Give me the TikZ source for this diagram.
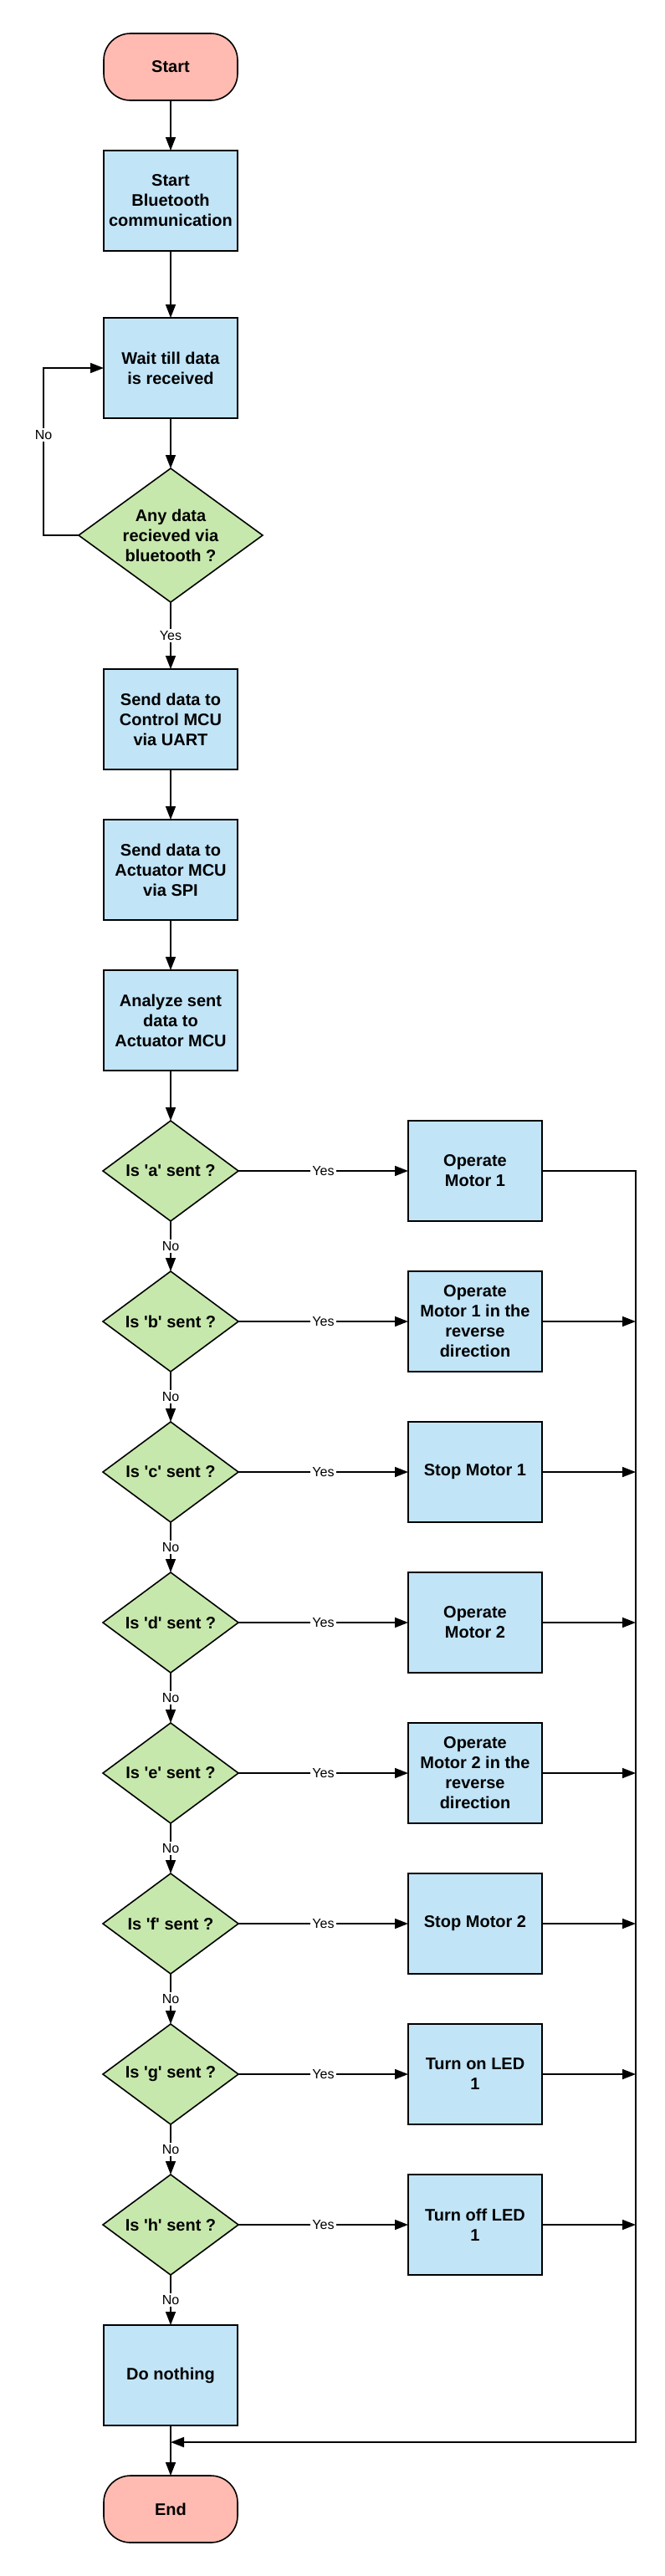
\documentclass[tikz,border=0pt]{standalone}
\usepackage{fontspec}
\setmainfont{Liberation Sans}
\usetikzlibrary{shapes.geometric,arrows.meta,positioning,calc}
\definecolor{termred}{HTML}{FFBBB1}
\definecolor{procblue}{HTML}{C1E4F7}
\definecolor{decgreen}{HTML}{C7E8AC}
\newcommand{\sq}{\textquotesingle}
\tikzset{
  term/.style={draw,fill=termred,rounded corners=16pt,minimum width=80pt,minimum height=40pt,outer sep=0pt,font=\fontsize{10pt}{12pt}\selectfont\bfseries},
  proc/.style={draw,fill=procblue,minimum width=80pt,minimum height=60pt,inner sep=2pt,outer sep=0pt,align=center,font=\fontsize{10pt}{12pt}\selectfont\bfseries},
  dec/.style={draw,fill=decgreen,diamond,aspect=1.35,minimum width=81pt,minimum height=60pt,inner sep=0pt,outer sep=0pt,align=center,font=\fontsize{10pt}{12pt}\selectfont\bfseries},
  lbl/.style={fill=white,inner sep=1pt,font=\fontsize{8pt}{9.6pt}\selectfont}
}
\begin{document}
\begin{tikzpicture}[node distance=30pt,line width=0.8pt,>={Triangle[length=8pt,width=6pt]}]
            \useasboundingbox (0,0) rectangle (397pt,-1540pt);
            \node[term] (start) at (102pt,-40pt) {Start};
            \node[proc] (bt) [below=of start] {Start\\Bluetooth\\communication};
            \node[proc] (wait) [below=40pt of bt] {Wait till data\\is received};
            \node[dec,aspect=1.375,minimum width=110pt,minimum height=80pt] (any) [below=of wait] {Any data\\recieved via\\bluetooth ?};
            \node[proc] (uart) [below=40pt of any] {Send data to\\Control MCU\\via UART};
            \node[proc] (spi) [below=of uart] {Send data to\\Actuator MCU\\via SPI};
            \node[proc] (ana) [below=of spi] {Analyze sent\\data to\\Actuator MCU};
            \node[dec] (qa) [below=of ana] {Is \sq a\sq{} sent ?};
            \node[dec] (qb) [below=of qa] {Is \sq b\sq{} sent ?};
            \node[dec] (qc) [below=of qb] {Is \sq c\sq{} sent ?};
            \node[dec] (qd) [below=of qc] {Is \sq d\sq{} sent ?};
            \node[dec] (qe) [below=of qd] {Is \sq e\sq{} sent ?};
            \node[dec] (qf) [below=of qe] {Is \sq f\sq{} sent ?};
            \node[dec] (qg) [below=of qf] {Is \sq g\sq{} sent ?};
            \node[dec] (qh) [below=of qg] {Is \sq h\sq{} sent ?};
            \node[proc] (none) [below=of qh] {Do nothing};
            \node[term] (end) [below=of none] {End};
            \node[proc] (opa) [right=101.5pt of qa] {Operate\\Motor 1};
            \node[proc] (opb) [right=101.5pt of qb] {Operate\\Motor 1 in the\\reverse\\direction};
            \node[proc] (opc) [right=101.5pt of qc] {Stop Motor 1};
            \node[proc] (opd) [right=101.5pt of qd] {Operate\\Motor 2};
            \node[proc] (ope) [right=101.5pt of qe] {Operate\\Motor 2 in the\\reverse\\direction};
            \node[proc] (opf) [right=101.5pt of qf] {Stop Motor 2};
            \node[proc] (opg) [right=101.5pt of qg] {Turn on LED\\1};
            \node[proc] (oph) [right=101.5pt of qh] {Turn off LED\\1};
            \coordinate (rtop) at ($(opa.east)+(56pt,0)$);
            \coordinate (mrg) at ($(none.south)!0.333!(end.north)$);
            \draw[->] (start) -- (bt);
            \draw[->] (bt) -- (wait);
            \draw[->] (wait) -- (any);
            \draw[->] (any.west) -- ++(-21pt,0) |- node[lbl,pos=0.3]{No} (wait.west);
            \draw[->] (any) -- node[lbl]{Yes} (uart);
            \draw[->] (uart) -- (spi);
            \draw[->] (spi) -- (ana);
            \draw[->] (ana) -- (qa);
            \draw[->] (qa) -- node[lbl]{No} (qb);
            \draw[->] (qb) -- node[lbl]{No} (qc);
            \draw[->] (qc) -- node[lbl]{No} (qd);
            \draw[->] (qd) -- node[lbl]{No} (qe);
            \draw[->] (qe) -- node[lbl]{No} (qf);
            \draw[->] (qf) -- node[lbl]{No} (qg);
            \draw[->] (qg) -- node[lbl]{No} (qh);
            \draw[->] (qh) -- node[lbl]{No} (none);
            \draw[->] (none) -- (end);
            \draw[->] (qa) -- node[lbl]{Yes} (opa);
            \draw[->] (qb) -- node[lbl]{Yes} (opb);
            \draw[->] (qc) -- node[lbl]{Yes} (opc);
            \draw[->] (qd) -- node[lbl]{Yes} (opd);
            \draw[->] (qe) -- node[lbl]{Yes} (ope);
            \draw[->] (qf) -- node[lbl]{Yes} (opf);
            \draw[->] (qg) -- node[lbl]{Yes} (opg);
            \draw[->] (qh) -- node[lbl]{Yes} (oph);
            \draw[->] (opa.east) -- (rtop) -- (rtop |- mrg) -- (mrg);
            \draw[->] (opb.east) -- (opb.east -| rtop);
            \draw[->] (opc.east) -- (opc.east -| rtop);
            \draw[->] (opd.east) -- (opd.east -| rtop);
            \draw[->] (ope.east) -- (ope.east -| rtop);
            \draw[->] (opf.east) -- (opf.east -| rtop);
            \draw[->] (opg.east) -- (opg.east -| rtop);
            \draw[->] (oph.east) -- (oph.east -| rtop);
        \end{tikzpicture}
\end{document}
